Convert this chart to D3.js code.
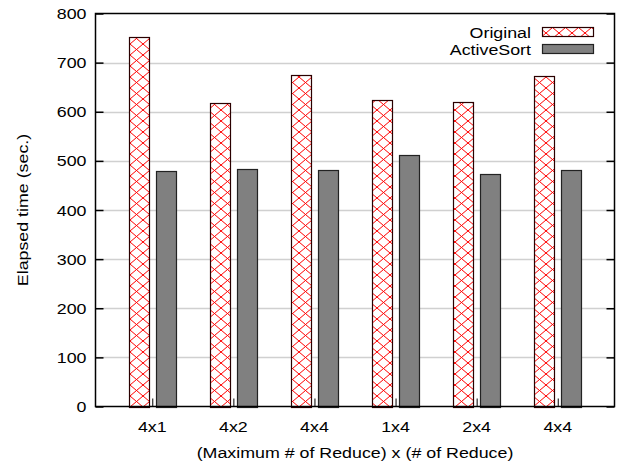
<!DOCTYPE html>
<html>
<head>
<meta charset="utf-8">
<script src="https://cdn.jsdelivr.net/npm/d3@7"></script>
<style>
  body { margin: 0; background: #fff; }
  text { font-family: "Liberation Sans", Arial, sans-serif; fill: #000; }
</style>
</head>
<body>
<div id="chart"></div>
<script>
var categories = ["4x1", "4x2", "4x4", "1x4", "2x4", "4x4"];
var originalValues = [752, 617, 674, 624, 620, 673];
var activeSortValues = [480, 484, 482, 511, 474, 482];
var seriesNames = ["Original", "ActiveSort"];
var yTicks = [0, 100, 200, 300, 400, 500, 600, 700, 800];

var width = 619, height = 462;
var margin = { left: 95.5, top: 13.5, right: 4.5, bottom: 55.5 };
var plotW = width - margin.left - margin.right;
var plotH = height - margin.top - margin.bottom;
var fontSize = 15.5;
var stretch = 1.15; // gnuplot text looks a bit wider than Liberation Sans

var svg = d3.select("#chart")
    .append("svg")
    .attr("width", width)
    .attr("height", height);

// text placed with a horizontal stretch
function label(g, tx, ty, str, anchor, rot) {
    return g.append("text")
        .attr("transform", "translate(" + tx + "," + ty + ")" + (rot ? " rotate(" + rot + ")" : "") + " scale(" + stretch + ",1)")
        .attr("text-anchor", anchor)
        .attr("font-size", fontSize)
        .text(str);
}

// red cross-hatch fill
var defs = svg.append("defs");
var pat = defs.append("pattern")
    .attr("id", "cross")
    .attr("patternUnits", "userSpaceOnUse")
    .attr("width", 13)
    .attr("height", 11);
pat.append("rect").attr("width", 13).attr("height", 11).attr("fill", "#fff");
pat.append("path")
    .attr("d", "M0,0L13,11M13,0L0,11")
    .attr("stroke", "#ff0000")
    .attr("stroke-width", 1)
    .attr("fill", "none");

var x = d3.scaleLinear()
    .domain([-0.7, categories.length - 0.3])
    .range([margin.left, margin.left + plotW]);

var y = d3.scaleLinear()
    .domain([0, 800])
    .range([margin.top + plotH, margin.top]);

var barW = 0.25;
var offsets = [-0.166, 0.166];

// grid lines
svg.append("g")
    .selectAll("line")
    .data(yTicks.slice(1, -1))
    .enter()
    .append("line")
    .attr("x1", margin.left)
    .attr("x2", margin.left + plotW)
    .attr("y1", function(d) { return Math.round(y(d)) + 0.5; })
    .attr("y2", function(d) { return Math.round(y(d)) + 0.5; })
    .attr("stroke", "#d0d0d0")
    .attr("stroke-width", 1.5);

// bars
var series = [originalValues, activeSortValues];
series.forEach(function(vals, s) {
    svg.append("g")
        .selectAll("rect")
        .data(vals)
        .enter()
        .append("rect")
        .attr("x", function(d, i) { return Math.round(x(i + offsets[s] - barW / 2)) + 0.5; })
        .attr("width", function() { return Math.round(x(barW) - x(0)); })
        .attr("y", function(d) { return Math.round(y(d)) + 0.5; })
        .attr("height", function(d) { return Math.round(y(0)) - Math.round(y(d)); })
        .attr("fill", s === 0 ? "url(#cross)" : "#808080")
        .attr("stroke", s === 0 ? "#2a0000" : "#222")
        .attr("stroke-width", 1.2);
});

// y axis left and right (inward ticks)
var axisL = svg.append("g")
    .attr("transform", "translate(" + margin.left + ",0)")
    .call(d3.axisRight(y).tickValues(yTicks).tickSize(8).tickFormat(""));
axisL.select(".domain").remove();
axisL.selectAll("line").attr("stroke", "#000").attr("stroke-width", 1.5);

var axisR = svg.append("g")
    .attr("transform", "translate(" + (margin.left + plotW) + ",0)")
    .call(d3.axisLeft(y).tickValues(yTicks).tickSize(8).tickFormat(""));
axisR.select(".domain").remove();
axisR.selectAll("line").attr("stroke", "#000").attr("stroke-width", 1.5);

var yLab = svg.append("g");
yTicks.forEach(function(d) {
    label(yLab, margin.left - 9, y(d) + 5.5, d, "end");
});

// x axis
var axisB = svg.append("g")
    .attr("transform", "translate(0," + (margin.top + plotH) + ")")
    .call(d3.axisTop(x).tickValues(d3.range(categories.length)).tickSize(8).tickFormat(""));
axisB.select(".domain").remove();
axisB.selectAll("line").attr("stroke", "#000").attr("stroke-width", 1);

var xLab = svg.append("g");
categories.forEach(function(c, i) {
    label(xLab, x(i), 432, c, "middle");
});

// frame
svg.append("rect")
    .attr("x", margin.left)
    .attr("y", margin.top)
    .attr("width", plotW)
    .attr("height", plotH)
    .attr("fill", "none")
    .attr("stroke", "#000")
    .attr("stroke-width", 1.5);

// axis titles
label(svg, 28, margin.top + plotH / 2, "Elapsed time (sec.)", "middle", -90);
label(svg, margin.left + plotW / 2, 458, "(Maximum # of Reduce) x (# of Reduce)", "middle");

// legend
var legend = svg.append("g");
seriesNames.forEach(function(name, s) {
    var cy = 32 + s * 17;
    label(legend, 531, cy + 5.5, name, "end");
    legend.append("rect")
        .attr("x", 542.5)
        .attr("y", cy - 4.5)
        .attr("width", 51)
        .attr("height", 9)
        .attr("fill", s === 0 ? "url(#cross)" : "#808080")
        .attr("stroke", s === 0 ? "#2a0000" : "#222")
        .attr("stroke-width", 1.2);
});
</script>
</body>
</html>
